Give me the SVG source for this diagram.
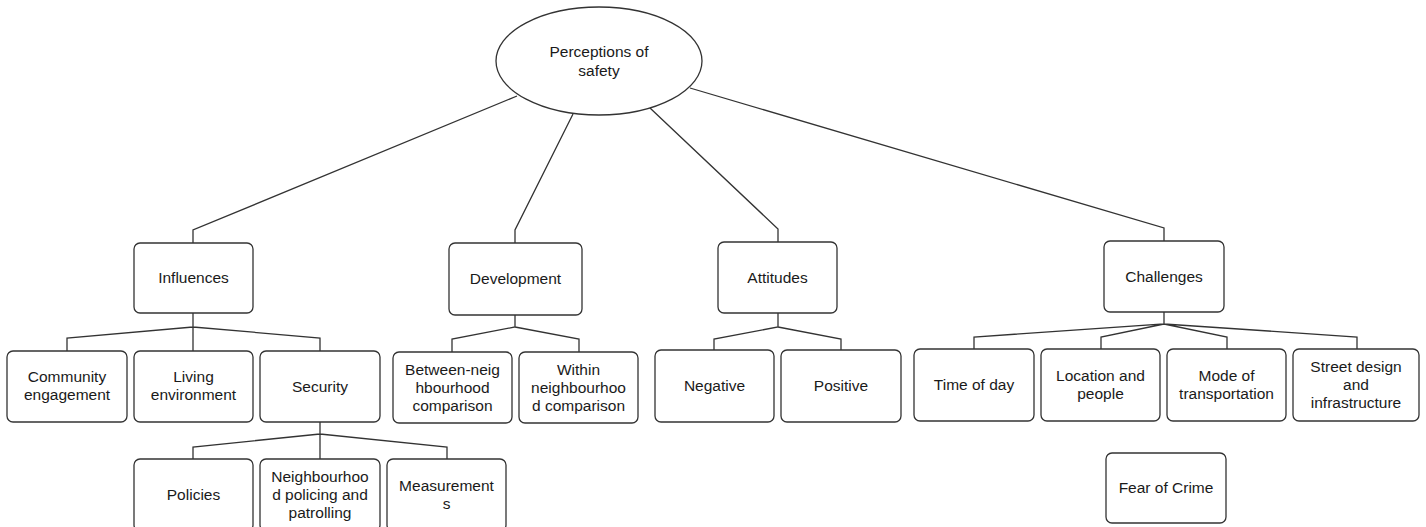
<svg xmlns="http://www.w3.org/2000/svg" width="1426" height="527" viewBox="0 0 1426 527">
<style>
.n{fill:#fff;stroke:#333;stroke-width:1.3}
.t{font-family:"Liberation Sans",Arial,Helvetica,sans-serif;font-size:15.5px;fill:#1a1a1a;text-anchor:middle}
.c{fill:none;stroke:#333;stroke-width:1.3}
</style>
<rect width="1426" height="527" fill="#fff"/>
<g id="connectors">
<path class="c" d="M517,96 L193,230 V243"/>
<path class="c" d="M573,114 L515,230 V243"/>
<path class="c" d="M650,108 L778,229 V242"/>
<path class="c" d="M690,88 L1164,228 V241"/>
<path class="c" d="M193,313 V351 M193,327 L67,338 V351 M193,327 L320,338 V351"/>
<path class="c" d="M320,422 V459 M320,434 L193,447 V459 M320,434 L447,447 V459"/>
<path class="c" d="M515,315 V327 L452,339 V352 M515,327 L579,339 V352"/>
<path class="c" d="M778,313 V327 L714,339 V350 M778,327 L841,339 V350"/>
<path class="c" d="M1164,312 V324 L974,337 V349 M1164,324 L1101,337 V349 M1164,324 L1227,337 V349 M1164,324 L1357,337 V349"/>
</g>
<g id="root">
<ellipse class="n" cx="599" cy="61" rx="103" ry="54"/>
<text class="t" x="599" y="57">Perceptions of</text>
<text class="t" x="599" y="76">safety</text>
</g>
<g id="influences"><rect class="n" x="134" y="243" width="119" height="70" rx="6"/><text class="t" x="193.5" y="283">Influences</text></g>
<g id="development"><rect class="n" x="449" y="243" width="133" height="72" rx="6"/><text class="t" x="515.5" y="284">Development</text></g>
<g id="attitudes"><rect class="n" x="718" y="242" width="119" height="71" rx="6"/><text class="t" x="777.5" y="283">Attitudes</text></g>
<g id="challenges"><rect class="n" x="1104" y="241" width="120" height="71" rx="6"/><text class="t" x="1164" y="282">Challenges</text></g>
<g id="community"><rect class="n" x="7" y="351" width="120" height="71" rx="6"/><text class="t" x="67" y="382">Community</text><text class="t" x="67" y="400">engagement</text></g>
<g id="living"><rect class="n" x="134" y="351" width="119" height="71" rx="6"/><text class="t" x="193.5" y="382">Living</text><text class="t" x="193.5" y="400">environment</text></g>
<g id="security"><rect class="n" x="260" y="351" width="120" height="71" rx="6"/><text class="t" x="320" y="392">Security</text></g>
<g id="policies"><rect class="n" x="134" y="459" width="119" height="72" rx="6"/><text class="t" x="193.5" y="500">Policies</text></g>
<g id="policing"><rect class="n" x="260" y="459" width="120" height="72" rx="6"/><text class="t" x="320" y="482">Neighbourhoo</text><text class="t" x="320" y="500">d policing and</text><text class="t" x="320" y="518">patrolling</text></g>
<g id="measurements"><rect class="n" x="387" y="459" width="119" height="72" rx="6"/><text class="t" x="446.5" y="491">Measurement</text><text class="t" x="446.5" y="509">s</text></g>
<g id="between"><rect class="n" x="393" y="352" width="119" height="71" rx="6"/><text class="t" x="452.5" y="375">Between-neig</text><text class="t" x="452.5" y="393">hbourhood</text><text class="t" x="452.5" y="411">comparison</text></g>
<g id="within"><rect class="n" x="519" y="352" width="119" height="71" rx="6"/><text class="t" x="578.5" y="375">Within</text><text class="t" x="578.5" y="393">neighbourhoo</text><text class="t" x="578.5" y="411">d comparison</text></g>
<g id="negative"><rect class="n" x="655" y="350" width="119" height="72" rx="6"/><text class="t" x="714.5" y="391">Negative</text></g>
<g id="positive"><rect class="n" x="781" y="350" width="120" height="72" rx="6"/><text class="t" x="841" y="391">Positive</text></g>
<g id="timeofday"><rect class="n" x="914" y="349" width="120" height="72" rx="6"/><text class="t" x="974" y="390">Time of day</text></g>
<g id="location"><rect class="n" x="1041" y="349" width="119" height="72" rx="6"/><text class="t" x="1100.5" y="381">Location and</text><text class="t" x="1100.5" y="399">people</text></g>
<g id="mode"><rect class="n" x="1167" y="349" width="119" height="72" rx="6"/><text class="t" x="1226.5" y="381">Mode of</text><text class="t" x="1226.5" y="399">transportation</text></g>
<g id="street"><rect class="n" x="1293" y="349" width="126" height="72" rx="6"/><text class="t" x="1356" y="372">Street design</text><text class="t" x="1356" y="390">and</text><text class="t" x="1356" y="408">infrastructure</text></g>
<g id="fear"><rect class="n" x="1106" y="453" width="120" height="70" rx="6"/><text class="t" x="1166" y="493">Fear of Crime</text></g>
</svg>
